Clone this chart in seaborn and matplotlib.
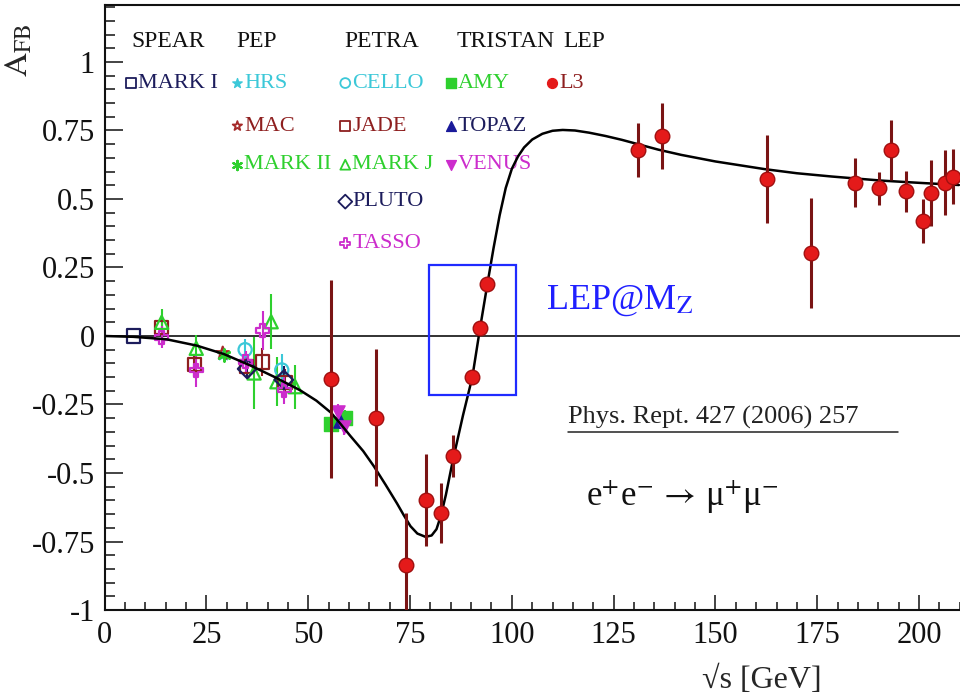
import numpy as np
import pandas as pd
import seaborn as sns
import matplotlib.pyplot as plt
from matplotlib.patches import Rectangle
from matplotlib.ticker import MultipleLocator

# ---- data: sqrt(s) [GeV], A_FB, error ----
mark1_x = [7.0]
mark1_y = [0.0]
mark1_e = [0.0]

hrs_x = [29.0]
hrs_y = [-0.065]
hrs_e = [0.02]

mac_x = [29.0]
mac_y = [-0.063]
mac_e = [0.015]

mark2_x = [29.3]
mark2_y = [-0.068]
mark2_e = [0.02]

cello_x = [34.5, 43.5]
cello_y = [-0.05, -0.124]
cello_e = [0.04, 0.06]

jade_x = [14.0, 22.0, 34.8, 38.7, 44.3]
jade_y = [0.03, -0.105, -0.11, -0.095, -0.17]
jade_e = [0.03, 0.04, 0.03, 0.05, 0.05]

markj_x = [14.0, 22.5, 36.7, 40.9, 42.3, 46.8]
markj_y = [0.05, -0.045, -0.135, 0.052, -0.167, -0.185]
markj_e = [0.05, 0.05, 0.13, 0.10, 0.09, 0.08]

pluto_x = [35.0, 44.0]
pluto_y = [-0.12, -0.16]
pluto_e = [0.03, 0.05]

tasso_x = [14.0, 22.5, 34.6, 38.8, 44.1]
tasso_y = [-0.005, -0.125, -0.094, 0.02, -0.197]
tasso_e = [0.04, 0.06, 0.04, 0.07, 0.05]

amy_x = [55.7, 59.1]
amy_y = [-0.321, -0.30]
amy_e = [0.03, 0.03]

topaz_x = [57.8]
topaz_y = [-0.31]
topaz_e = [0.03]

venus_x = [57.4, 58.7]
venus_y = [-0.277, -0.332]
venus_e = [0.03, 0.03]

l3_x = [55.6, 66.7, 74.0, 78.8, 82.6, 85.5, 90.3, 92.1, 94.0,
        131.1, 136.9, 162.6, 173.4, 184.2, 190.1, 193.1, 196.9,
        200.9, 203.0, 206.5, 208.3]
l3_y = [-0.157, -0.298, -0.836, -0.599, -0.647, -0.438, -0.148, 0.028, 0.189,
        0.679, 0.730, 0.572, 0.302, 0.560, 0.539, 0.679, 0.529,
        0.421, 0.521, 0.560, 0.581]
l3_e = [0.36, 0.25, 0.19, 0.167, 0.11, 0.076, 0.0, 0.0, 0.0,
        0.10, 0.12, 0.16, 0.20, 0.09, 0.06, 0.11, 0.075,
        0.08, 0.12, 0.12, 0.10]

# standard model curve
curve_x = [0, 7, 15.2, 22.6, 29.3, 35.7, 41.5, 48, 52, 55.6, 58.0, 60.3,
           63.5, 66.1, 69.0, 71.8, 73.5, 75.1, 76.8, 78.8, 80.3, 81.5, 82.6,
           83.8, 85.5, 88.0, 90.3, 92.1, 94.0, 95.5, 97.0, 98.5, 100.0,
           101.5, 103.0, 105.0, 107.5, 110.0, 112.5, 115.5, 119.0, 123.0,
           127.0, 131.0, 136.0, 141.6, 150.0, 162.1, 170.0, 178.6, 190.9,
           200.0, 209.8]
curve_y = [0, -0.003, -0.012, -0.035, -0.066, -0.107, -0.148, -0.198, -0.236,
           -0.28, -0.322, -0.364, -0.42, -0.475, -0.543, -0.611, -0.655,
           -0.694, -0.721, -0.733, -0.728, -0.705, -0.655, -0.58, -0.455,
           -0.29, -0.15, 0.02, 0.19, 0.32, 0.44, 0.54, 0.61, 0.655, 0.688,
           0.717, 0.738, 0.749, 0.752, 0.750, 0.742, 0.730, 0.716, 0.700,
           0.680, 0.661, 0.637, 0.609, 0.594, 0.582, 0.567, 0.559, 0.551]

xtick_vals = [0, 25, 50, 75, 100, 125, 150, 175, 200]
xtick_labels = ["0", "25", "50", "75", "100", "125", "150", "175", "200"]
ytick_vals = [-1, -0.75, -0.5, -0.25, 0, 0.25, 0.5, 0.75, 1]
ytick_labels = ["-1", "-0.75", "-0.5", "-0.25", "0", "0.25", "0.5", "0.75", "1"]

headers = ["SPEAR", "PEP", "PETRA", "TRISTAN", "LEP"]

# ---- styles ----
navy = "#1c1c5c"
cyan = "#3cc8d8"
green = "#2ed02e"
dred = "#8e1f1f"
magenta = "#cc2ccc"
blue = "#1a1a9a"

# name: (x, y, err, marker, color, filled, text color, legend col, legend row)
experiments = {
    "MARK I": (mark1_x, mark1_y, mark1_e, "s", navy, False, navy, 0, 0),
    "HRS": (hrs_x, hrs_y, hrs_e, "*", cyan, True, cyan, 1, 0),
    "MAC": (mac_x, mac_y, mac_e, "*", "#a52a2a", False, dred, 1, 1),
    "MARK II": (mark2_x, mark2_y, mark2_e, (6, 2, 0), green, None, green, 1, 2),
    "CELLO": (cello_x, cello_y, cello_e, "o", cyan, False, cyan, 2, 0),
    "JADE": (jade_x, jade_y, jade_e, "s", dred, False, dred, 2, 1),
    "MARK J": (markj_x, markj_y, markj_e, "^", green, False, green, 2, 2),
    "PLUTO": (pluto_x, pluto_y, pluto_e, "D", navy, False, navy, 2, 3),
    "TASSO": (tasso_x, tasso_y, tasso_e, "P", magenta, False, magenta, 2, 4),
    "AMY": (amy_x, amy_y, amy_e, "s", green, True, green, 3, 0),
    "TOPAZ": (topaz_x, topaz_y, topaz_e, "^", blue, True, navy, 3, 1),
    "VENUS": (venus_x, venus_y, venus_e, "v", magenta, True, magenta, 3, 2),
}

sns.set_theme(style="ticks")
plt.rcParams["font.family"] = ["Liberation Serif", "DejaVu Serif"]
plt.rcParams["mathtext.fontset"] = "stix"
plt.rcParams["axes.unicode_minus"] = False

fig = plt.figure(figsize=(9.6, 6.95), dpi=100)
ax = fig.add_axes([0.109, 0.1223, 0.892, 0.8705])

# curve
sns.lineplot(x=curve_x, y=curve_y, ax=ax, color="black", lw=1.8, sort=False,
             zorder=4, legend=False)
ax.axhline(0, color="#222222", lw=1.3, zorder=1)

# low energy data
for name, (xs, ys, es, mk, col, filled, tcol, c, r) in experiments.items():
    ax.errorbar(xs, ys, yerr=es, fmt="none", ecolor=col, elinewidth=1.5,
                capsize=0, zorder=2)
    if filled is None:
        sns.scatterplot(x=xs, y=ys, ax=ax, marker=mk, s=75, color=col,
                        linewidth=1.8, zorder=3, legend=False)
    elif filled:
        sns.scatterplot(x=xs, y=ys, ax=ax, marker=mk, s=90, color=col,
                        edgecolor=col, linewidth=1, zorder=3, legend=False)
    else:
        sns.scatterplot(x=xs, y=ys, ax=ax, marker=mk, s=90, color=col,
                        facecolors="none", edgecolor=col, linewidth=1.6,
                        zorder=3, legend=False)

# L3
ax.errorbar(l3_x, l3_y, yerr=l3_e, fmt="none", ecolor="#7a1414",
            elinewidth=2.2, capsize=0, zorder=4.5)
sns.scatterplot(x=l3_x, y=l3_y, ax=ax, marker="o", s=110, color="#e41a1a",
                edgecolor="#a01010", linewidth=1, zorder=5, legend=False)

# axes
ax.set_xlim(0, 210.3)
ax.set_ylim(-1, 1.208)
ax.set_xticks(xtick_vals, xtick_labels)
ax.set_yticks(ytick_vals, ytick_labels)
ax.xaxis.set_minor_locator(MultipleLocator(5))
ax.yaxis.set_minor_locator(MultipleLocator(0.05))
ax.tick_params(which="both", direction="in", colors="#111111", width=1.1,
               labelsize=22)
ax.tick_params(axis="x", which="major", length=11, pad=8)
ax.tick_params(axis="x", which="minor", length=6)
ax.tick_params(axis="y", which="major", length=13, pad=7)
ax.tick_params(axis="y", which="minor", length=7.5)
for s in ["left", "bottom", "top"]:
    ax.spines[s].set_linewidth(1.5)
    ax.spines[s].set_color("#111111")
ax.spines["right"].set_visible(False)

ax.set_ylabel(r"$\mathrm{A}_{\mathrm{FB}}$", fontsize=24, labelpad=0)
ax.yaxis.set_label_coords(-0.082, 0.926)
ax.set_xlabel("√s [GeV]", fontsize=23, va="center")
ax.xaxis.set_label_coords(0.767, -0.116)

# legend block drawn as labels
col_x = [0.0312, 0.155, 0.281, 0.404, 0.523]
head_x = [0.0316, 0.154, 0.280, 0.411, 0.536]
row_y = [0.871, 0.800, 0.736, 0.675, 0.606]
for h, hx in zip(headers, head_x):
    ax.text(hx, 0.939, h, transform=ax.transAxes, fontsize=17,
            color="#111111", va="center", ha="left")

legend_items = list(experiments.items()) + [
    ("L3", (None, None, None, "o", "#e41a1a", True, dred, 4, 0))]
for name, (xs, ys, es, mk, col, filled, tcol, c, r) in legend_items:
    mx, my = col_x[c], row_y[r]
    if filled is None:
        ax.scatter([mx], [my], marker=mk, s=45, color=col, linewidth=1.6,
                   transform=ax.transAxes, clip_on=False, zorder=6)
    elif filled:
        ax.scatter([mx], [my], marker=mk, s=50, color=col,
                   transform=ax.transAxes, clip_on=False, zorder=6)
    else:
        ax.scatter([mx], [my], marker=mk, s=50, facecolors="none",
                   edgecolors=col, linewidth=1.3, transform=ax.transAxes,
                   clip_on=False, zorder=6)
    ax.text(mx + 0.008, my, name, transform=ax.transAxes, fontsize=16,
            color=tcol, va="center", ha="left")

# annotations
ax.add_patch(Rectangle((79.6, -0.215), 21.4, 0.474, fill=False,
                       edgecolor="#1f2bff", lw=1.6, zorder=6))
ax.text(0.515, 0.512, r"LEP@M$_{\mathrm{Z}}$", transform=ax.transAxes,
        fontsize=26, color="#2020ff", va="center", ha="left")
ax.text(0.541, 0.300, "Phys. Rept. 427 (2006) 257", transform=ax.transAxes,
        fontsize=19, color="#222222", va="bottom", ha="left")
ax.plot([0.541, 0.927], [0.294, 0.294], transform=ax.transAxes,
        color="#222222", lw=1.1)
ax.text(0.562, 0.187, r"e$^{+}$e$^{-}$$\,\rightarrow\,$μ$^{+}$μ$^{-}$",
        transform=ax.transAxes, fontsize=25, color="#111111", va="center",
        ha="left")

fig.savefig("out.png", dpi=100)
